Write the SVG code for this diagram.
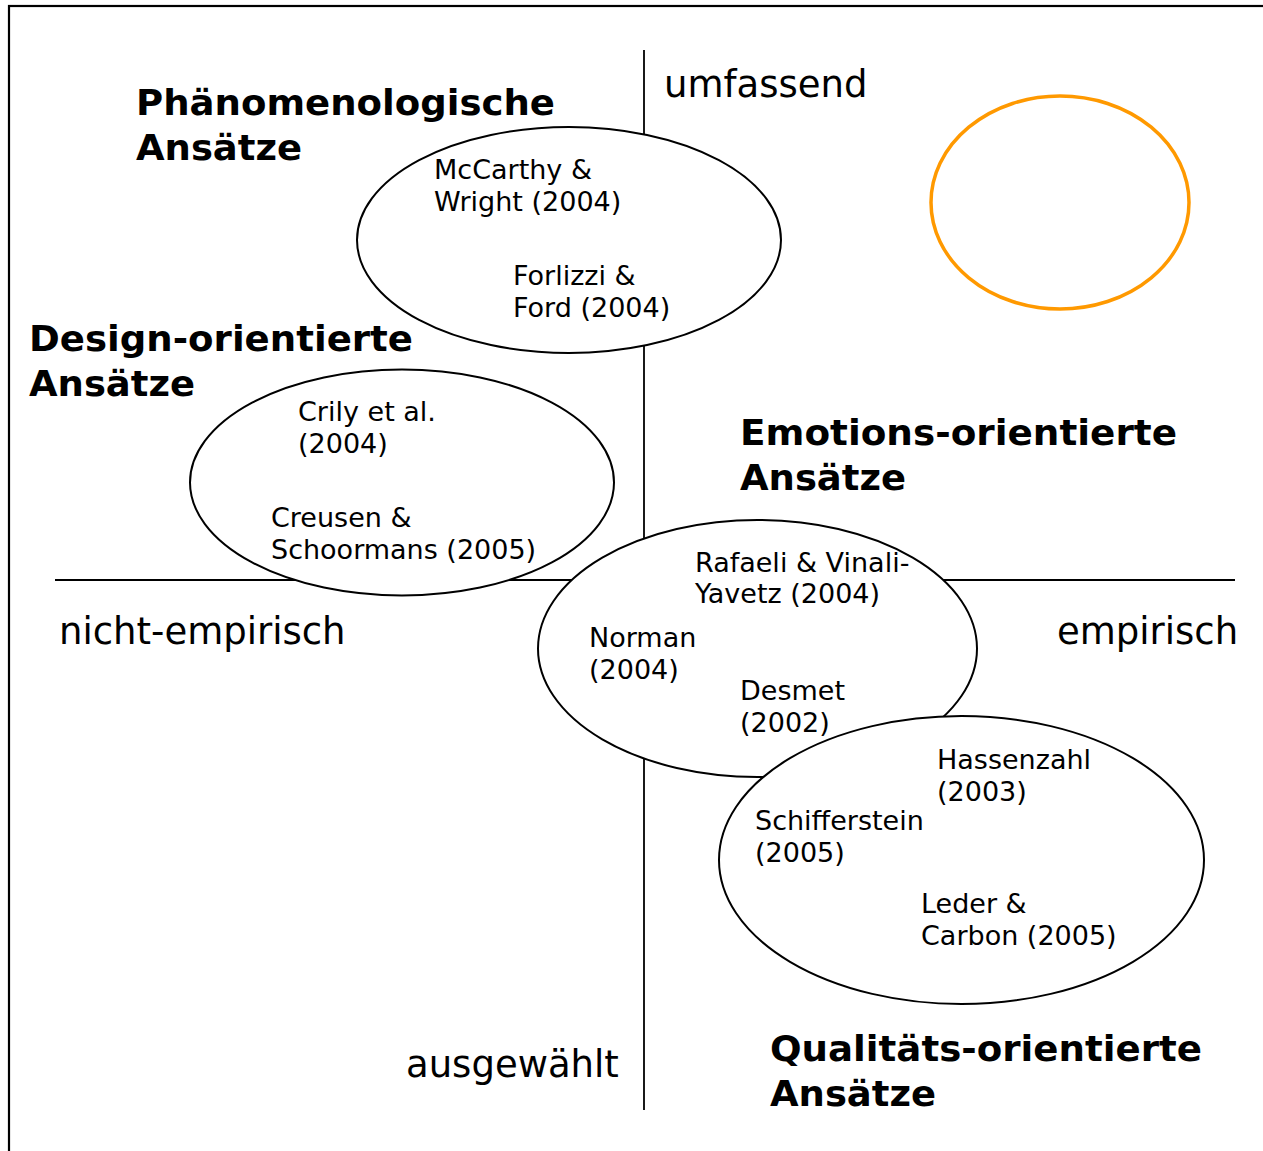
<svg xmlns="http://www.w3.org/2000/svg" width="1263" height="1151" viewBox="0 0 1263 1151">
<style>
.frame{fill:none;stroke:#000;stroke-width:2.2}
.axis{stroke:#000;stroke-width:1.8;fill:none}
.ell{fill:#fff;stroke:#000;stroke-width:2}
.orange{fill:none;stroke:#FF9900;stroke-width:3.5}
.s{font-family:"DejaVu Sans",Verdana,sans-serif;font-size:27px;fill:#000}
.l{font-family:"DejaVu Sans",Verdana,sans-serif;font-size:37px;fill:#000}
.b{font-family:"DejaVu Sans",Verdana,sans-serif;font-size:35px;font-weight:bold;fill:#000}
</style>
<rect class="frame" x="9" y="6" width="1300" height="1200"/>
<g id="axes">
<line class="axis" x1="55" y1="580" x2="1235" y2="580"/>
<line class="axis" x1="644" y1="50" x2="644" y2="1110"/>
</g>
<g id="axis-labels">
<text class="l" x="664" y="97">umfassend</text>
<text class="l" x="59" y="644">nicht-empirisch</text>
<text class="l" x="1057" y="644">empirisch</text>
<text class="l" x="406" y="1077">ausgewählt</text>
</g>
<g id="phaenomenologisch">
<ellipse class="ell" cx="569" cy="240" rx="212" ry="113"/>
<text class="b" x="136" y="115" textLength="419" lengthAdjust="spacingAndGlyphs">Phänomenologische</text>
<text class="b" x="136" y="160" textLength="166" lengthAdjust="spacingAndGlyphs">Ansätze</text>
<text class="s" x="434" y="179">McCarthy &amp;</text>
<text class="s" x="434" y="211">Wright (2004)</text>
<text class="s" x="513" y="285">Forlizzi &amp;</text>
<text class="s" x="513" y="317">Ford (2004)</text>
</g>
<g id="design">
<ellipse class="ell" cx="402" cy="482.5" rx="212" ry="113"/>
<text class="b" x="29" y="351" textLength="384" lengthAdjust="spacingAndGlyphs">Design-orientierte</text>
<text class="b" x="29" y="396" textLength="166" lengthAdjust="spacingAndGlyphs">Ansätze</text>
<text class="s" x="298" y="421">Crily et al.</text>
<text class="s" x="298" y="453">(2004)</text>
<text class="s" x="271" y="527">Creusen &amp;</text>
<text class="s" x="271" y="559">Schoormans (2005)</text>
</g>
<g id="emotion">
<ellipse class="ell" cx="757.5" cy="648.5" rx="219.5" ry="128.5"/>
<text class="b" x="740" y="445" textLength="437" lengthAdjust="spacingAndGlyphs">Emotions-orientierte</text>
<text class="b" x="740" y="490" textLength="166" lengthAdjust="spacingAndGlyphs">Ansätze</text>
<text class="s" x="695" y="572">Rafaeli &amp; Vinali-</text>
<text class="s" x="695" y="603">Yavetz (2004)</text>
<text class="s" x="589" y="647">Norman</text>
<text class="s" x="589" y="679">(2004)</text>
<text class="s" x="740" y="700">Desmet</text>
<text class="s" x="740" y="732">(2002)</text>
</g>
<g id="qualitaet">
<ellipse class="ell" cx="961.5" cy="860" rx="242.5" ry="144"/>
<text class="b" x="770" y="1061" textLength="432" lengthAdjust="spacingAndGlyphs">Qualitäts-orientierte</text>
<text class="b" x="770" y="1106" textLength="166" lengthAdjust="spacingAndGlyphs">Ansätze</text>
<text class="s" x="937" y="769">Hassenzahl</text>
<text class="s" x="937" y="801">(2003)</text>
<text class="s" x="755" y="830">Schifferstein</text>
<text class="s" x="755" y="862">(2005)</text>
<text class="s" x="921" y="913">Leder &amp;</text>
<text class="s" x="921" y="945">Carbon (2005)</text>
</g>
<g id="orange-ellipse">
<ellipse class="orange" cx="1060" cy="202.5" rx="129" ry="106.5"/>
</g>
</svg>
